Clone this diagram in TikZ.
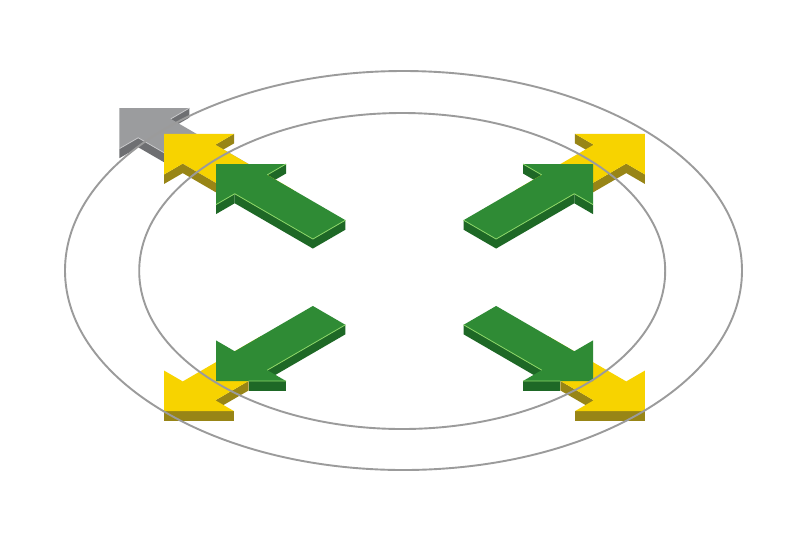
\documentclass[tikz,border=0pt]{standalone}
\definecolor{gtop}{RGB}{47,139,53}
\definecolor{gside}{RGB}{30,104,38}
\definecolor{ghl}{RGB}{140,214,104}
\definecolor{ytop}{RGB}{247,211,0}
\definecolor{yside}{RGB}{152,133,22}
\definecolor{gytop}{RGB}{155,156,158}
\definecolor{gyside}{RGB}{110,111,114}
\definecolor{gyhl}{RGB}{200,200,202}
\definecolor{ring}{RGB}{155,155,155}
\newcommand\sface[3]{\fill[#1] (#2) -- (#3) -- ([yshift=-9.5pt]#3) -- ([yshift=-9.5pt]#2) -- cycle;}
\newcommand\greentop{\fill[gtop] (0,0) -- (49.5,49.5) -- (49.5,23) -- (160,23) -- (160,-23) -- (49.5,-23) -- (49.5,-49.5) -- cycle;}
\newcommand\yellowtop{\fill[ytop] (-73.5,0) -- (-24,49.5) -- (-24,23) -- (86.5,23) -- (86.5,-23) -- (-24,-23) -- (-24,-49.5) -- cycle;}
\newcommand\graytop{\fill[gytop] (-136.5,0) -- (-87,49.5) -- (-87,23) -- (23,23) -- (23,-23) -- (-87,-23) -- (-87,-49.5) -- cycle;}
\newcommand\uppersides{%
 \sface{yside}{-24,49.5}{-24,23}
 \sface{yside}{23,-23}{-24,-23}
 \sface{yside}{-24,-23}{-24,-49.5}
 \sface{gside}{49.5,49.5}{49.5,23}
 \sface{gside}{160,23}{160,-23}
 \sface{gside}{160,-23}{49.5,-23}
 \sface{gside}{49.5,-23}{49.5,-49.5}}
\newcommand\upperhl{\draw[ghl,line width=0.8pt,line join=round] (49.5,49.5) -- (49.5,23) (160,23) -- (160,-23) -- (49.5,-23) -- (49.5,-49.5);}
\newcommand\lowersides{%
 \sface{yside}{-73.5,0}{-24,49.5}
 \sface{yside}{-24,23}{23,23}
 \sface{gside}{23,23}{49.5,49.5}
 \sface{gside}{49.5,23}{160,23}}
\newcommand\lowerhl{\draw[ghl,line width=0.8pt,line join=round] (23,23) -- (49.5,49.5) (49.5,23) -- (160,23);}
\begin{document}
\begin{tikzpicture}[x=1pt,y=1pt]
\useasboundingbox (0,0) rectangle (803,-550);
\fill[white] (0,0) rectangle (803,-550);
% upper left (with gray)
\begin{scope}[shift={(216,-164)}, x={(0.7071pt,-0.4101pt)}, y={(0.7071pt,0.4101pt)}]
 \sface{gyside}{-87,49.5}{-87,23}
 \sface{gyside}{-50.5,-23}{-87,-23}
 \sface{gyside}{-87,-23}{-87,-49.5}
 \uppersides
 \graytop \yellowtop \greentop
 \draw[gyhl,line width=0.8pt,line join=round] (-87,49.5) -- (-87,23) (-50.5,-23) -- (-87,-23) -- (-87,-49.5);
 \upperhl
\end{scope}
% upper right
\begin{scope}[shift={(593,-164)}, x={(-0.7071pt,-0.4101pt)}, y={(-0.7071pt,0.4101pt)}]
 \uppersides
 \yellowtop \greentop
 \upperhl
\end{scope}
% lower left
\begin{scope}[shift={(216,-381)}, x={(0.7071pt,0.4101pt)}, y={(0.7071pt,-0.4101pt)}]
 \lowersides
 \yellowtop \greentop
 \lowerhl
\end{scope}
% lower right
\begin{scope}[shift={(593,-381)}, x={(-0.7071pt,0.4101pt)}, y={(-0.7071pt,-0.4101pt)}]
 \lowersides
 \yellowtop \greentop
 \lowerhl
\end{scope}
% rings
\draw[ring, line width=1.9pt] (403.5,-270.5) ellipse [x radius=338.5pt, y radius=199.5pt];
\draw[ring, line width=1.9pt] (402.2,-271) ellipse [x radius=263pt, y radius=158pt];
\end{tikzpicture}
\end{document}
